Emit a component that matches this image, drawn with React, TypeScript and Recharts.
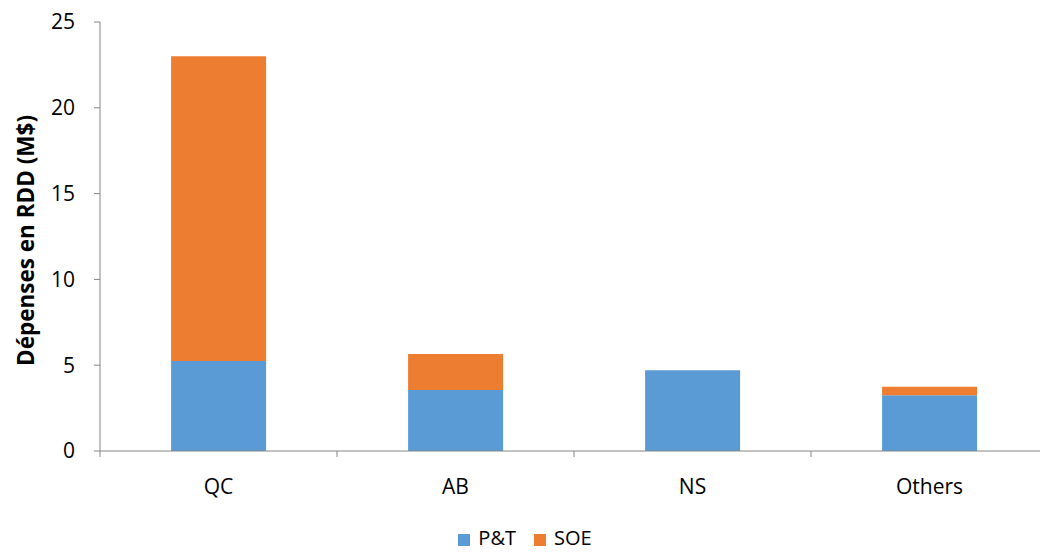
import { BarChart, Bar, XAxis, YAxis, Legend, Label } from 'recharts';

const provinces = ['QC', 'AB', 'NS', 'Others'];
const ptValues = [5.25, 3.55, 4.7, 3.25];
const soeValues = [17.75, 2.1, 0, 0.5];
const yTicks = [0, 5, 10, 15, 20, 25];

const data = provinces.map((name, i) => ({
  name,
  pt: ptValues[i],
  soe: soeValues[i],
}));

const FONT = '"Open Sans", "Liberation Sans", sans-serif';
const AXIS = '#868686';

// category label plus a tick mark on the band boundary (Excel-style)
function CategoryTick(props: any) {
  const { x, y, payload, index } = props;
  const half = payload?.offset ?? 0;
  return (
    <g>
      <line x1={x - half} x2={x - half} y1={y - 8} y2={y - 2} stroke={AXIS} />
      {index === provinces.length - 1 && (
        <line x1={x + half} x2={x + half} y1={y - 8} y2={y - 2} stroke={AXIS} />
      )}
      <text x={x} y={y + 28} dy="0.35em" textAnchor="middle" fontSize={21} fill="#000" fontFamily={FONT}>
        {payload.value}
      </text>
    </g>
  );
}

function AxisTitle(props: any) {
  const { viewBox } = props;
  const cy = viewBox.y + viewBox.height / 2 + 4;
  const cx = 25;
  return (
    <text
      x={cx}
      y={cy}
      transform={`rotate(-90, ${cx}, ${cy})`}
      textAnchor="middle"
      dominantBaseline="central"
      fontSize={22.5}
      fontWeight="bold"
      fill="#000"
      fontFamily={FONT}
    >
      Dépenses en RDD (M$)
    </text>
  );
}

export default function App() {
  return (
    <div style={{ position: 'absolute', left: 0, top: 0, width: 1040, height: 552, overflow: 'hidden', background: '#fff' }}>
      <BarChart
        width={1060}
        height={552}
        data={data}
        margin={{ top: 22, right: 12, left: 0, bottom: 2 }}
        barCategoryGap="30%"
      >
        <XAxis
          dataKey="name"
          stroke={AXIS}
          tickLine={false}
          tick={<CategoryTick />}
          height={75}
          interval={0}
        />
        <YAxis
          width={100}
          domain={[0, 25]}
          ticks={yTicks}
          stroke={AXIS}
          tickSize={6}
          tickMargin={19}
          tick={{ fill: '#000', fontSize: 21, fontFamily: FONT }}
        >
          <Label content={<AxisTitle />} />
        </YAxis>
        <Legend
          verticalAlign="bottom"
          align="center"
          iconType="square"
          iconSize={12}
          wrapperStyle={{ fontFamily: FONT, fontSize: 20, lineHeight: '24px', height: 24, paddingLeft: 10, color: '#000' }}
          formatter={(v: string) => (
            <span style={{ color: '#000', marginLeft: 4, marginRight: 8 }}>{v}</span>
          )}
        />
        <Bar dataKey="pt" name="P&T" stackId="a" fill="#5B9BD5" isAnimationActive={false} />
        <Bar dataKey="soe" name="SOE" stackId="a" fill="#ED7D31" isAnimationActive={false} />
      </BarChart>
    </div>
  );
}
